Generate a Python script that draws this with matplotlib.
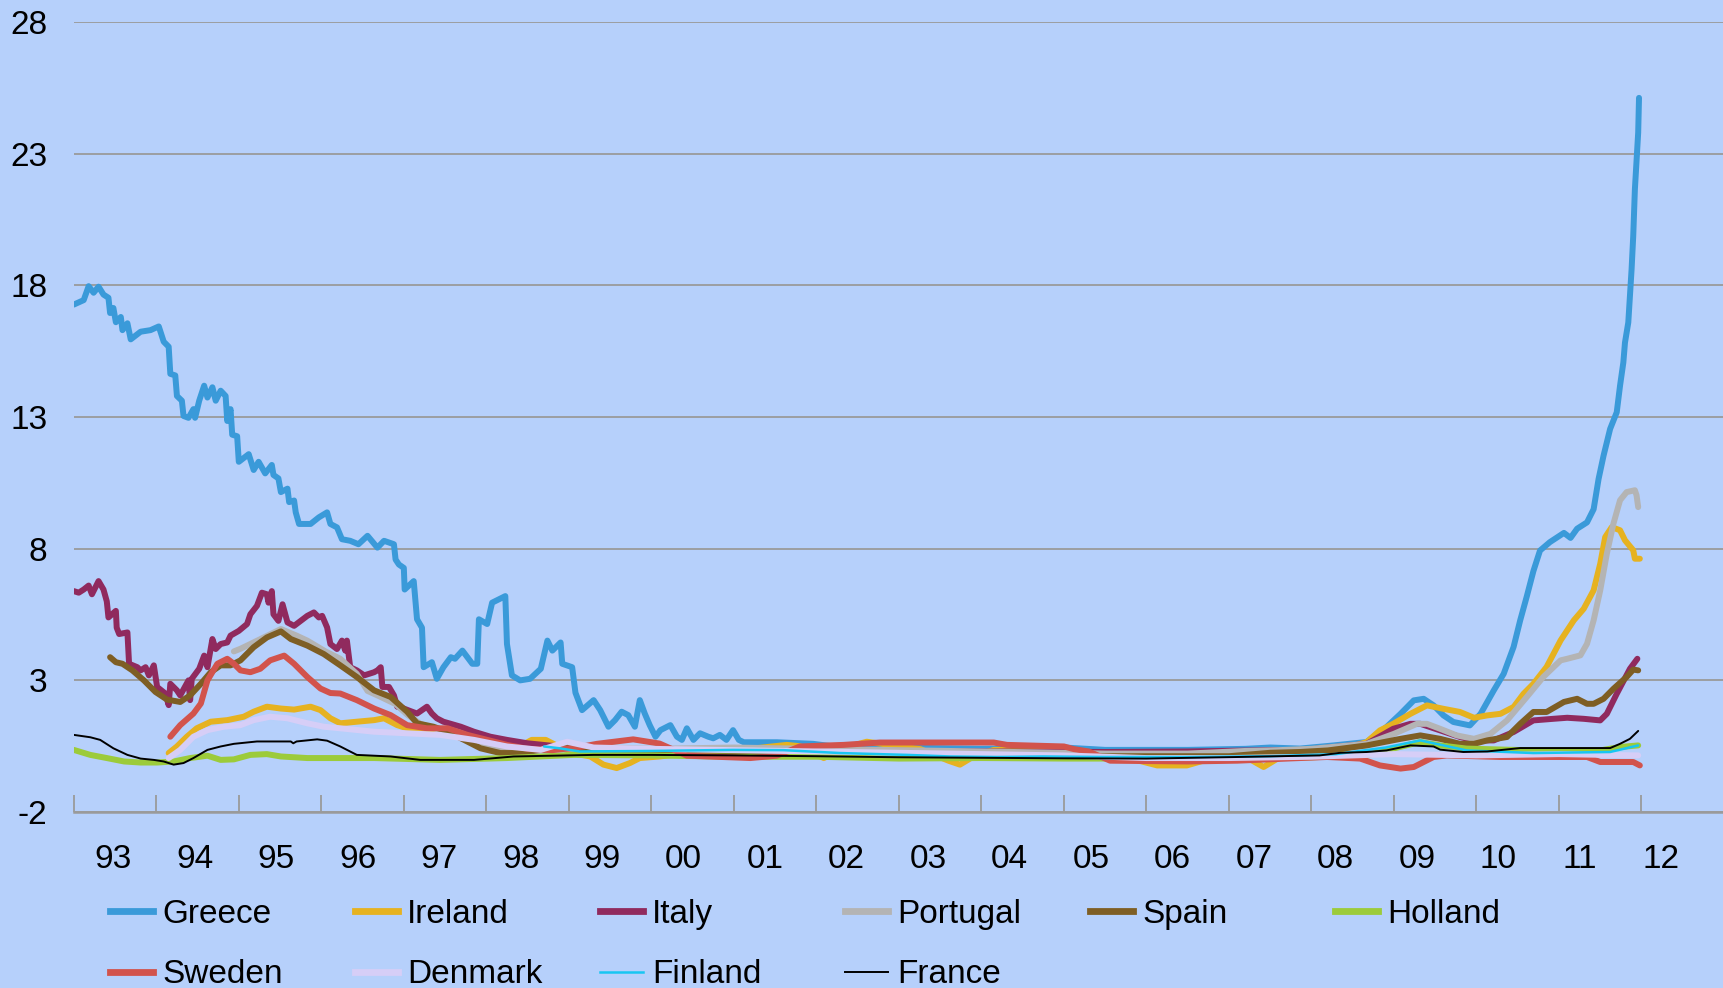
import matplotlib
matplotlib.use('Agg')
import matplotlib.pyplot as plt
from matplotlib.lines import Line2D

plt.rcParams['font.family'] = ['Liberation Sans', 'DejaVu Sans']

# spreads, decimal years and values
greece_t = [1993.00, 1993.12, 1993.18, 1993.24, 1993.30, 1993.36, 1993.42, 1993.44, 1993.48, 1993.51,
            1993.57, 1993.59, 1993.65, 1993.69, 1993.81, 1993.93, 1994.03, 1994.09, 1994.15, 1994.17,
            1994.23, 1994.25, 1994.31, 1994.33, 1994.39, 1994.45, 1994.47, 1994.52, 1994.58, 1994.62,
            1994.68, 1994.72, 1994.78, 1994.84, 1994.86, 1994.90, 1994.92, 1994.98, 1995.00, 1995.12,
            1995.18, 1995.24, 1995.32, 1995.40, 1995.42, 1995.48, 1995.51, 1995.59, 1995.61, 1995.67,
            1995.69, 1995.73, 1995.87, 1995.97, 1996.07, 1996.11, 1996.19, 1996.25, 1996.35, 1996.45,
            1996.56, 1996.68, 1996.76, 1996.88, 1996.90, 1996.94, 1997.00, 1997.01, 1997.12, 1997.16,
            1997.22, 1997.24, 1997.34, 1997.40, 1997.48, 1997.57, 1997.62, 1997.71, 1997.83, 1997.89,
            1997.91, 1998.01, 1998.07, 1998.23, 1998.25, 1998.31, 1998.41, 1998.53, 1998.66, 1998.74,
            1998.80, 1998.90, 1998.92, 1999.04, 1999.08, 1999.16, 1999.30, 1999.38, 1999.48, 1999.56,
            1999.64, 1999.72, 1999.80, 1999.86, 1999.92, 1999.98, 2000.05, 2000.11, 2000.23, 2000.31,
            2000.37, 2000.43, 2000.51, 2000.59, 2000.69, 2000.75, 2000.83, 2000.91, 2000.99, 2001.06,
            2001.12, 2001.52, 2001.96, 2002.21, 2003.00, 2004.00, 2005.00, 2005.50, 2006.50, 2007.20,
            2007.50, 2007.86, 2008.27, 2008.67, 2008.91, 2009.08, 2009.24, 2009.36, 2009.48, 2009.60,
            2009.72, 2009.92, 2010.05, 2010.21, 2010.33, 2010.45, 2010.53, 2010.61, 2010.69, 2010.77,
            2010.89, 2011.06, 2011.14, 2011.22, 2011.34, 2011.42, 2011.48, 2011.54, 2011.62, 2011.70,
            2011.74, 2011.78, 2011.80, 2011.84, 2011.86, 2011.88, 2011.90, 2011.92, 2011.96, 2011.97]
greece_v = [17.27, 17.44, 17.97, 17.72, 17.95, 17.65, 17.53, 16.95, 17.14, 16.60,
            16.80, 16.30, 16.56, 15.95, 16.24, 16.30, 16.44, 15.86, 15.67, 14.64,
            14.58, 13.80, 13.62, 13.04, 12.97, 13.30, 12.97, 13.62, 14.19, 13.74,
            14.13, 13.62, 14.00, 13.80, 12.85, 13.30, 12.33, 12.27, 11.30, 11.59,
            10.99, 11.30, 10.86, 11.18, 10.80, 10.67, 10.15, 10.28, 9.77, 9.83,
            9.38, 8.94, 8.94, 9.19, 9.38, 8.94, 8.81, 8.36, 8.30, 8.17,
            8.49, 8.04, 8.30, 8.17, 7.59, 7.40, 7.27, 6.45, 6.77, 5.32,
            5.00, 3.50, 3.69, 3.06, 3.50, 3.88, 3.82, 4.13, 3.63, 3.63,
            5.32, 5.14, 5.95, 6.20, 4.38, 3.19, 3.00, 3.06, 3.44, 4.51,
            4.13, 4.44, 3.63, 3.50, 2.53, 1.87, 2.25, 1.87, 1.24, 1.49,
            1.81, 1.68, 1.24, 2.25, 1.74, 1.30, 0.86, 1.11, 1.30, 0.86,
            0.74, 1.18, 0.74, 0.99, 0.86, 0.80, 0.93, 0.74, 1.11, 0.74,
            0.65, 0.65, 0.59, 0.49, 0.45, 0.40, 0.45, 0.36, 0.36, 0.40,
            0.45, 0.41, 0.53, 0.66, 1.23, 1.73, 2.24, 2.30, 2.05, 1.67,
            1.42, 1.29, 1.73, 2.62, 3.25, 4.27, 5.28, 6.19, 7.15, 7.93,
            8.25, 8.60, 8.41, 8.76, 9.00, 9.50, 10.65, 11.53, 12.55, 13.18,
            14.19, 15.07, 15.83, 16.59, 17.60, 18.61, 19.88, 21.65, 23.80, 25.12]

ireland_t = [1994.15, 1994.25, 1994.37, 1994.49, 1994.66, 1994.86, 1995.06, 1995.18, 1995.34, 1995.51,
             1995.67, 1995.87, 1995.99, 1996.11, 1996.23, 1996.43, 1996.64, 1996.76, 1996.92, 1997.04,
             1997.44, 1997.85, 1998.10, 1998.35, 1998.55, 1998.72, 1998.90, 1999.10, 1999.26, 1999.42,
             1999.58, 1999.74, 1999.86, 2000.10, 2000.60, 2001.20, 2001.64, 2001.80, 2002.09, 2002.30,
             2002.61, 2003.00, 2003.26, 2003.60, 2003.74, 2003.90, 2004.15, 2004.60, 2005.00, 2005.60,
             2006.13, 2006.49, 2006.80, 2007.20, 2007.42, 2007.60, 2008.00, 2008.40, 2008.67, 2008.83,
             2008.99, 2009.20, 2009.40, 2009.60, 2009.80, 2009.97, 2010.13, 2010.29, 2010.45, 2010.57,
             2010.69, 2010.85, 2011.02, 2011.18, 2011.30, 2011.42, 2011.50, 2011.56, 2011.64, 2011.74,
             2011.80, 2011.90, 2011.92, 2011.98]
ireland_v = [0.24, 0.49, 0.86, 1.18, 1.43, 1.49, 1.62, 1.81, 2.00, 1.93,
             1.89, 2.00, 1.87, 1.56, 1.37, 1.43, 1.49, 1.56, 1.30, 1.18,
             1.05, 0.86, 0.50, 0.40, 0.74, 0.74, 0.45, 0.20, 0.11, -0.20,
             -0.33, -0.14, 0.05, 0.11, 0.30, 0.40, 0.55, 0.50, 0.05, 0.40,
             0.67, 0.50, 0.39, -0.05, -0.20, 0.10, 0.36, 0.35, 0.30, 0.20,
             -0.23, -0.23, 0.05, 0.10, -0.29, 0.05, 0.30, 0.40, 0.66, 1.10,
             1.35, 1.73, 2.05, 1.92, 1.80, 1.58, 1.67, 1.73, 1.99, 2.49,
             2.87, 3.51, 4.52, 5.28, 5.72, 6.42, 7.43, 8.44, 8.82, 8.70,
             8.32, 7.94, 7.62, 7.62]

italy_t = [1993.00, 1993.06, 1993.12, 1993.18, 1993.22, 1993.30, 1993.36, 1993.40, 1993.42, 1993.51,
           1993.52, 1993.55, 1993.65, 1993.67, 1993.77, 1993.81, 1993.87, 1993.91, 1993.97, 1994.01,
           1994.11, 1994.15, 1994.17, 1994.25, 1994.29, 1994.39, 1994.41, 1994.43, 1994.52, 1994.58,
           1994.62, 1994.68, 1994.72, 1994.78, 1994.86, 1994.90, 1995.00, 1995.10, 1995.14, 1995.22,
           1995.28, 1995.34, 1995.36, 1995.40, 1995.42, 1995.48, 1995.53, 1995.59, 1995.67, 1995.75,
           1995.83, 1995.91, 1995.97, 1996.01, 1996.07, 1996.11, 1996.19, 1996.25, 1996.29, 1996.31,
           1996.35, 1996.43, 1996.52, 1996.58, 1996.64, 1996.68, 1996.72, 1996.74, 1996.82, 1996.88,
           1996.92, 1997.00, 1997.10, 1997.16, 1997.22, 1997.28, 1997.34, 1997.40, 1997.48, 1997.69,
           1997.85, 1998.05, 1998.25, 1998.50, 1999.00, 1999.50, 2000.50, 2001.50, 2002.50, 2003.50,
           2004.50, 2005.50, 2006.50, 2007.50, 2007.86, 2008.67, 2008.99, 2009.20, 2009.32, 2009.56,
           2009.80, 2009.97, 2010.21, 2010.45, 2010.69, 2010.93, 2011.10, 2011.30, 2011.50, 2011.58,
           2011.70, 2011.86, 2011.95]
italy_v = [6.39, 6.33, 6.45, 6.60, 6.27, 6.77, 6.45, 6.00, 5.39, 5.64,
           5.00, 4.76, 4.82, 3.63, 3.50, 3.38, 3.50, 3.19, 3.57, 2.75,
           2.50, 2.06, 2.87, 2.62, 2.43, 3.00, 2.25, 3.06, 3.44, 3.94,
           3.50, 4.57, 4.19, 4.38, 4.44, 4.70, 4.88, 5.14, 5.51, 5.83,
           6.33, 6.27, 5.95, 6.39, 5.51, 5.26, 5.89, 5.20, 5.07, 5.26,
           5.45, 5.58, 5.39, 5.45, 5.01, 4.38, 4.19, 4.51, 4.13, 4.51,
           3.50, 3.38, 3.19, 3.25, 3.31, 3.38, 3.50, 2.75, 2.75, 2.43,
           2.00, 1.93, 1.81, 1.74, 1.87, 2.00, 1.74, 1.56, 1.43, 1.24,
           1.05, 0.86, 0.74, 0.61, 0.45, 0.40, 0.35, 0.40, 0.35, 0.30,
           0.30, 0.28, 0.30, 0.35, 0.34, 0.59, 1.16, 1.35, 1.35, 1.10,
           0.85, 0.72, 0.72, 1.04, 1.48, 1.54, 1.58, 1.54, 1.48, 1.73,
           2.49, 3.44, 3.82]

portugal_t = [1994.94, 1995.02, 1995.10, 1995.25, 1995.51, 1995.70, 1995.83, 1996.05, 1996.23, 1996.43,
              1996.56, 1996.70, 1996.90, 1997.04, 1997.20, 1997.50, 1997.80, 1998.00, 1998.30, 1998.60,
              1999.00, 1999.50, 2000.00, 2001.00, 2002.00, 2003.00, 2004.00, 2005.00, 2005.50, 2006.50,
              2007.20, 2007.60, 2008.00, 2008.67, 2009.00, 2009.28, 2009.40, 2009.56, 2009.76, 2009.97,
              2010.17, 2010.37, 2010.61, 2010.81, 2011.02, 2011.10, 2011.26, 2011.34, 2011.42, 2011.50,
              2011.58, 2011.66, 2011.74, 2011.82, 2011.92, 2011.94, 2011.96]
portugal_v = [4.10, 4.20, 4.32, 4.55, 4.95, 4.70, 4.51, 4.10, 3.82, 3.25,
              2.60, 2.40, 2.10, 1.70, 1.35, 1.05, 0.70, 0.50, 0.30, 0.35,
              0.40, 0.45, 0.40, 0.45, 0.40, 0.35, 0.30, 0.25, 0.22, 0.22,
              0.32, 0.35, 0.40, 0.59, 0.97, 1.35, 1.35, 1.16, 0.91, 0.78,
              0.97, 1.48, 2.37, 3.13, 3.76, 3.82, 3.95, 4.39, 5.28, 6.42,
              7.81, 8.95, 9.84, 10.15, 10.22, 10.03, 9.58]

spain_t = [1993.44, 1993.51, 1993.59, 1993.71, 1993.85, 1993.99, 1994.13, 1994.29, 1994.41, 1994.54,
           1994.66, 1994.78, 1994.90, 1995.02, 1995.18, 1995.34, 1995.51, 1995.63, 1995.83, 1996.03,
           1996.23, 1996.43, 1996.64, 1996.84, 1997.04, 1997.16, 1997.36, 1997.53, 1997.73, 1997.93,
           1998.17, 1998.41, 1998.66, 1999.00, 1999.50, 2000.00, 2001.00, 2002.00, 2003.00, 2004.00,
           2005.00, 2006.00, 2007.00, 2007.50, 2007.86, 2008.20, 2008.67, 2009.08, 2009.32, 2009.56,
           2009.80, 2009.97, 2010.13, 2010.37, 2010.53, 2010.69, 2010.85, 2011.06, 2011.22, 2011.34,
           2011.42, 2011.54, 2011.66, 2011.82, 2011.90, 2011.96]
spain_v = [3.88, 3.69, 3.63, 3.38, 3.00, 2.56, 2.27, 2.18, 2.43, 2.87,
           3.31, 3.57, 3.57, 3.76, 4.26, 4.63, 4.86, 4.57, 4.32, 4.00,
           3.57, 3.13, 2.62, 2.37, 1.81, 1.37, 1.24, 1.05, 0.74, 0.42,
           0.24, 0.24, 0.36, 0.45, 0.30, 0.25, 0.30, 0.25, 0.15, 0.10,
           0.12, 0.12, 0.12, 0.25, 0.28, 0.34, 0.53, 0.78, 0.91, 0.78,
           0.59, 0.59, 0.72, 0.85, 1.35, 1.80, 1.80, 2.18, 2.30, 2.11,
           2.11, 2.30, 2.68, 3.13, 3.41, 3.38]

holland_t = [1993.00, 1993.20, 1993.40, 1993.61, 1993.81, 1994.01, 1994.21, 1994.41, 1994.62, 1994.78,
             1994.94, 1995.14, 1995.34, 1995.51, 1995.83, 1996.64, 1997.44, 1998.25, 1999.06, 2000.00,
             2001.00, 2002.00, 2003.00, 2004.00, 2005.00, 2006.00, 2007.00, 2008.00, 2008.67, 2008.99,
             2009.32, 2009.56, 2009.88, 2010.69, 2011.50, 2011.74, 2011.96]
holland_v = [0.36, 0.17, 0.05, -0.08, -0.12, -0.12, -0.08, 0.05, 0.14, -0.02,
             0.00, 0.17, 0.20, 0.11, 0.05, 0.05, -0.02, 0.05, 0.17, 0.15,
             0.10, 0.10, 0.03, 0.05, 0.03, 0.03, 0.05, 0.08, 0.15, 0.41,
             0.66, 0.53, 0.41, 0.34, 0.34, 0.47, 0.53]

sweden_t = [1994.17, 1994.29, 1994.45, 1994.54, 1994.62, 1994.74, 1994.86, 1994.94, 1995.02, 1995.14,
            1995.26, 1995.38, 1995.55, 1995.67, 1995.83, 1995.99, 1996.11, 1996.23, 1996.43, 1996.64,
            1996.84, 1997.04, 1997.28, 1997.53, 1997.77, 1998.01, 1998.25, 1998.50, 1998.80, 1999.10,
            1999.34, 1999.78, 2000.10, 2000.43, 2001.20, 2001.52, 2001.80, 2002.33, 2002.77, 2004.15,
            2004.31, 2005.00, 2005.12, 2005.30, 2005.56, 2006.50, 2007.10, 2007.78, 2008.19, 2008.59,
            2008.83, 2009.08, 2009.24, 2009.48, 2009.64, 2010.29, 2011.10, 2011.34, 2011.50, 2011.90,
            2011.98]
sweden_v = [0.86, 1.30, 1.74, 2.12, 3.00, 3.63, 3.82, 3.63, 3.38, 3.31,
            3.44, 3.76, 3.94, 3.63, 3.13, 2.69, 2.52, 2.50, 2.25, 1.93,
            1.68, 1.30, 1.18, 1.18, 0.93, 0.74, 0.55, 0.40, 0.35, 0.45,
            0.59, 0.76, 0.60, 0.14, 0.05, 0.14, 0.49, 0.55, 0.64, 0.64,
            0.55, 0.49, 0.39, 0.30, -0.05, -0.08, -0.05, 0.04, 0.09, 0.03,
            -0.23, -0.35, -0.29, 0.09, 0.15, 0.09, 0.09, 0.09, -0.10, -0.10,
            -0.23]

denmark_t = [1994.15, 1994.29, 1994.45, 1994.62, 1994.82, 1995.02, 1995.18, 1995.38, 1995.59, 1995.83,
             1996.03, 1996.23, 1996.64, 1997.04, 1997.44, 1997.85, 1998.25, 1998.66, 1998.98, 1999.30,
             2000.00, 2001.00, 2002.00, 2003.00, 2004.00, 2005.00, 2006.00, 2007.00, 2008.00, 2009.00,
             2010.00, 2011.00, 2011.96]
denmark_v = [0.05, 0.36, 0.86, 1.11, 1.24, 1.30, 1.49, 1.62, 1.56, 1.37,
             1.24, 1.18, 1.05, 0.99, 0.93, 0.74, 0.49, 0.36, 0.67, 0.45,
             0.40, 0.35, 0.30, 0.25, 0.20, 0.15, 0.05, 0.05, 0.10, 0.20,
             0.15, 0.20, 0.15]

finland_t = [1998.70, 1998.89, 1999.13, 2000.00, 2000.99, 2001.60, 2002.29, 2003.10, 2003.62, 2004.19,
             2004.75, 2005.50, 2006.50, 2007.50, 2008.30, 2008.90, 2009.32, 2009.88, 2010.69, 2011.62,
             2011.96]
finland_v = [0.49, 0.42, 0.30, 0.32, 0.36, 0.35, 0.24, 0.17, 0.11, 0.09,
             0.11, 0.09, 0.09, 0.12, 0.20, 0.45, 0.72, 0.34, 0.24, 0.28,
             0.53]

france_t = [1993.00, 1993.20, 1993.32, 1993.48, 1993.65, 1993.81, 1993.97, 1994.09, 1994.21, 1994.33,
            1994.45, 1994.62, 1994.78, 1994.94, 1995.22, 1995.63, 1995.66, 1995.70, 1995.95, 1996.07,
            1996.23, 1996.43, 1996.84, 1997.20, 1997.85, 1998.33, 1999.30, 2000.00, 2001.00, 2002.00,
            2003.00, 2004.00, 2005.00, 2006.00, 2007.10, 2008.10, 2008.35, 2008.67, 2008.91, 2009.20,
            2009.48, 2009.56, 2009.84, 2010.13, 2010.53, 2011.62, 2011.74, 2011.86, 2011.96]
france_v = [0.93, 0.84, 0.74, 0.42, 0.17, 0.03, -0.02, -0.08, -0.20, -0.14,
            0.05, 0.36, 0.49, 0.59, 0.68, 0.68, 0.61, 0.68, 0.76, 0.71,
            0.49, 0.17, 0.11, -0.02, -0.02, 0.11, 0.17, 0.17, 0.15, 0.12,
            0.08, 0.06, 0.04, 0.03, 0.09, 0.15, 0.25, 0.28, 0.34, 0.53,
            0.49, 0.37, 0.28, 0.30, 0.43, 0.43, 0.59, 0.78, 1.08]

year_labels = ['93', '94', '95', '96', '97', '98', '99', '00', '01', '02',
               '03', '04', '05', '06', '07', '08', '09', '10', '11', '12']
y_ticks = [-2, 3, 8, 13, 18, 23, 28]

bg = '#B6D0FB'
fig = plt.figure(figsize=(17.24, 9.88), dpi=100, facecolor=bg)
ax = fig.add_axes([0.0428, 0.1781, 0.9572, 0.7996], facecolor=bg)

series = [
    ('Greece', greece_t, greece_v, '#3A9AD9', 4.3),
    ('Ireland', ireland_t, ireland_v, '#E6B220', 4.3),
    ('Italy', italy_t, italy_v, '#902A5E', 4.3),
    ('Portugal', portugal_t, portugal_v, '#B4B4B4', 4.3),
    ('Spain', spain_t, spain_v, '#7E5E24', 4.3),
    ('Holland', holland_t, holland_v, '#9CCB3A', 4.3),
    ('Sweden', sweden_t, sweden_v, '#D2534C', 4.3),
    ('Denmark', denmark_t, denmark_v, '#D6CEF7', 4.3),
    ('Finland', finland_t, finland_v, '#18C6F2', 1.8),
    ('France', france_t, france_v, '#000000', 1.4),
]

handles = {}
for name, t, v, col, lw in series:
    ax.plot(t, v, color=col, lw=lw, solid_joinstyle='round', solid_capstyle='round')
    handles[name] = Line2D([], [], color=col, lw=lw + 0.6 if lw > 3 else lw)

ax.set_xlim(1993, 2013)
ax.set_ylim(-2, 28)

ax.set_yticks(y_ticks)
ax.set_yticklabels([str(v) for v in y_ticks])
ax.yaxis.grid(True, color='#9A9A9A', lw=1.3)
ax.set_axisbelow(True)
ax.tick_params(axis='y', length=0, pad=19, labelsize=24)

# tick marks at year boundaries, labels sit a little left of the mid-year in the original
ax.set_xticks(range(1993, 2014))
ax.set_xticklabels([])
label_pos = [1993.48 + i * 0.9874 for i in range(len(year_labels))]
ax.set_xticks(label_pos, minor=True)
ax.set_xticklabels(year_labels, minor=True)
ax.tick_params(axis='x', which='major', direction='in', length=12.5, width=1.3, color='#9A9A9A')
ax.tick_params(axis='x', which='minor', length=0, pad=23, labelsize=24)

for s in ['top', 'right', 'left']:
    ax.spines[s].set_visible(False)
ax.spines['bottom'].set_color('#9A9A9A')
ax.spines['bottom'].set_linewidth(1.8)

# legend laid out in equal columns
columns = [['Greece', 'Sweden'], ['Ireland', 'Denmark'], ['Italy', 'Finland'],
           ['Portugal', 'France'], ['Spain'], ['Holland']]
for i, names in enumerate(columns):
    x0 = (110 + i * 245) / 1724
    fig.legend([handles[n] for n in names], names, loc='upper left',
               bbox_to_anchor=(x0, 0.090), frameon=False, fontsize=24,
               borderpad=0, borderaxespad=0, handlelength=1.3,
               handletextpad=0.27, labelspacing=0.88)

fig.savefig('out.png', dpi=100, facecolor=bg)
